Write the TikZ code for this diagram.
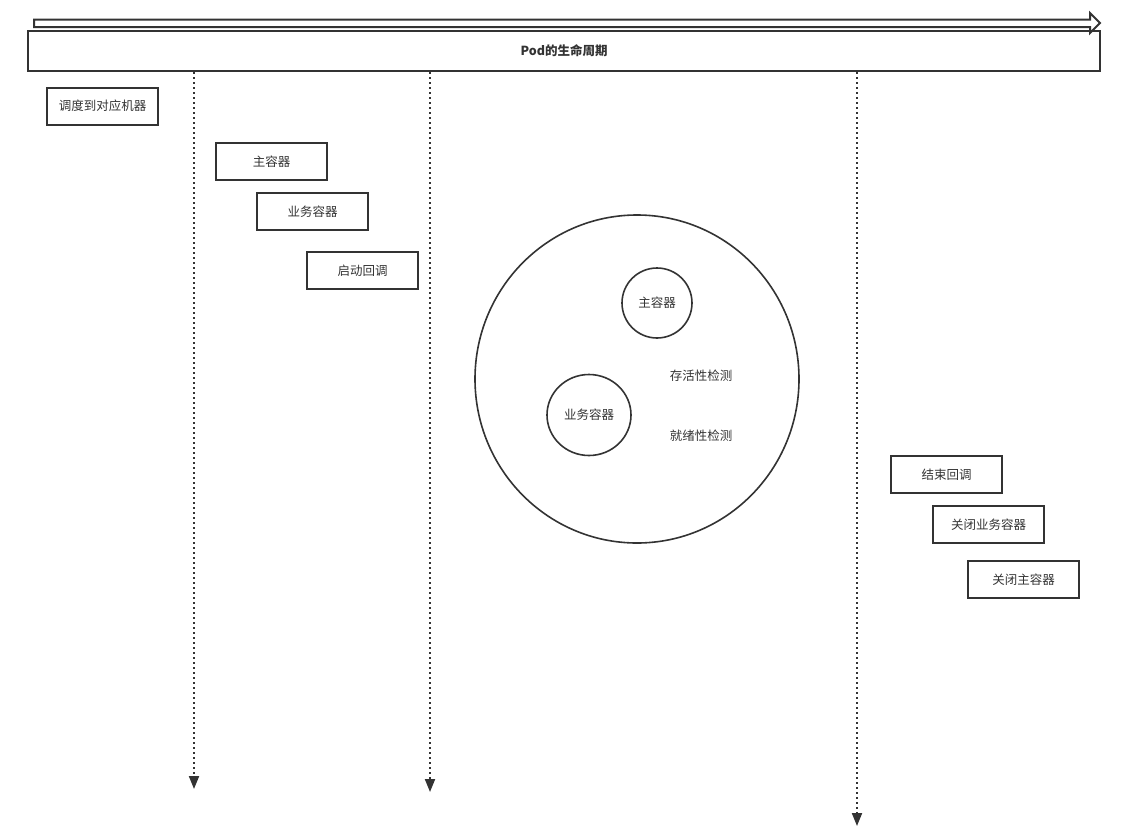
\documentclass[tikz,border=0pt]{standalone}
\usepackage{fontspec}
\setmainfont{Noto Sans CJK SC}
\usepackage{tikz}
\usetikzlibrary{positioning,arrows.meta,shapes.geometric}

\definecolor{ink}{HTML}{333333}

\begin{document}
\begin{tikzpicture}[
    x=1pt, y=-1pt,
    font=\fontsize{12.5}{14}\selectfont, text=ink,
    box/.style={draw=ink, line width=2pt, minimum width=111pt, minimum height=37pt, inner sep=0pt},
    ring/.style={draw=ink, line width=1.6pt, ellipse, inner sep=0pt},
    dotarr/.style={draw=ink, line width=2pt, dash pattern=on 2pt off 3pt, -{Triangle[length=13pt, width=10pt]}}
  ]
    \useasboundingbox (0,0) rectangle (1127,830);

    % time line at the top
    \draw[ink, line width=2pt, line join=miter] (34,19.5) -- (1090,19.5) -- (1090,13) -- (1100,23)
      -- (1090,33) -- (1090,27) -- (34,27) -- cycle;
    \node[box, minimum width=1072pt, minimum height=40pt, font=\fontsize{12.5}{14}\selectfont\bfseries] (life) at (564,51) {Pod的生命周期};

    % phases
    \coordinate (e1) at (194,789);
    \coordinate (e2) at (430,792);
    \coordinate (e3) at (857,826);
    \draw[dotarr] (life.south -| e1) -- (e1);
    \draw[dotarr] (life.south -| e2) -- (e2);
    \draw[dotarr] (life.south -| e3) -- (e3);

    \node[box] (sched) at (102.5,106) {调度到对应机器};
    \node[box] (main) at (271.5,161.5) {主容器};
    \node[box] (biz) at (312.5,211.5) {业务容器};
    \node[box] (poststart) at (362.5,270.5) {启动回调};

    % running pod
    \node[ring, minimum width=324pt, minimum height=328pt] (pod) at (637,379) {};
    \node[ring, minimum width=70pt, minimum height=70pt] (pmain) at (657,303) {主容器};
    \node[ring, minimum width=84pt, minimum height=81pt] (pbiz) at (589,415) {业务容器};
    \node (live) at (701,376) {存活性检测};
    \node (ready) at (701,436) {就绪性检测};

    \node[box] (prestop) at (946.5,474.5) {结束回调};
    \node[box] (stopbiz) at (988.5,524.5) {关闭业务容器};
    \node[box] (stopmain) at (1023.5,579.5) {关闭主容器};
  \end{tikzpicture}
\end{document}
